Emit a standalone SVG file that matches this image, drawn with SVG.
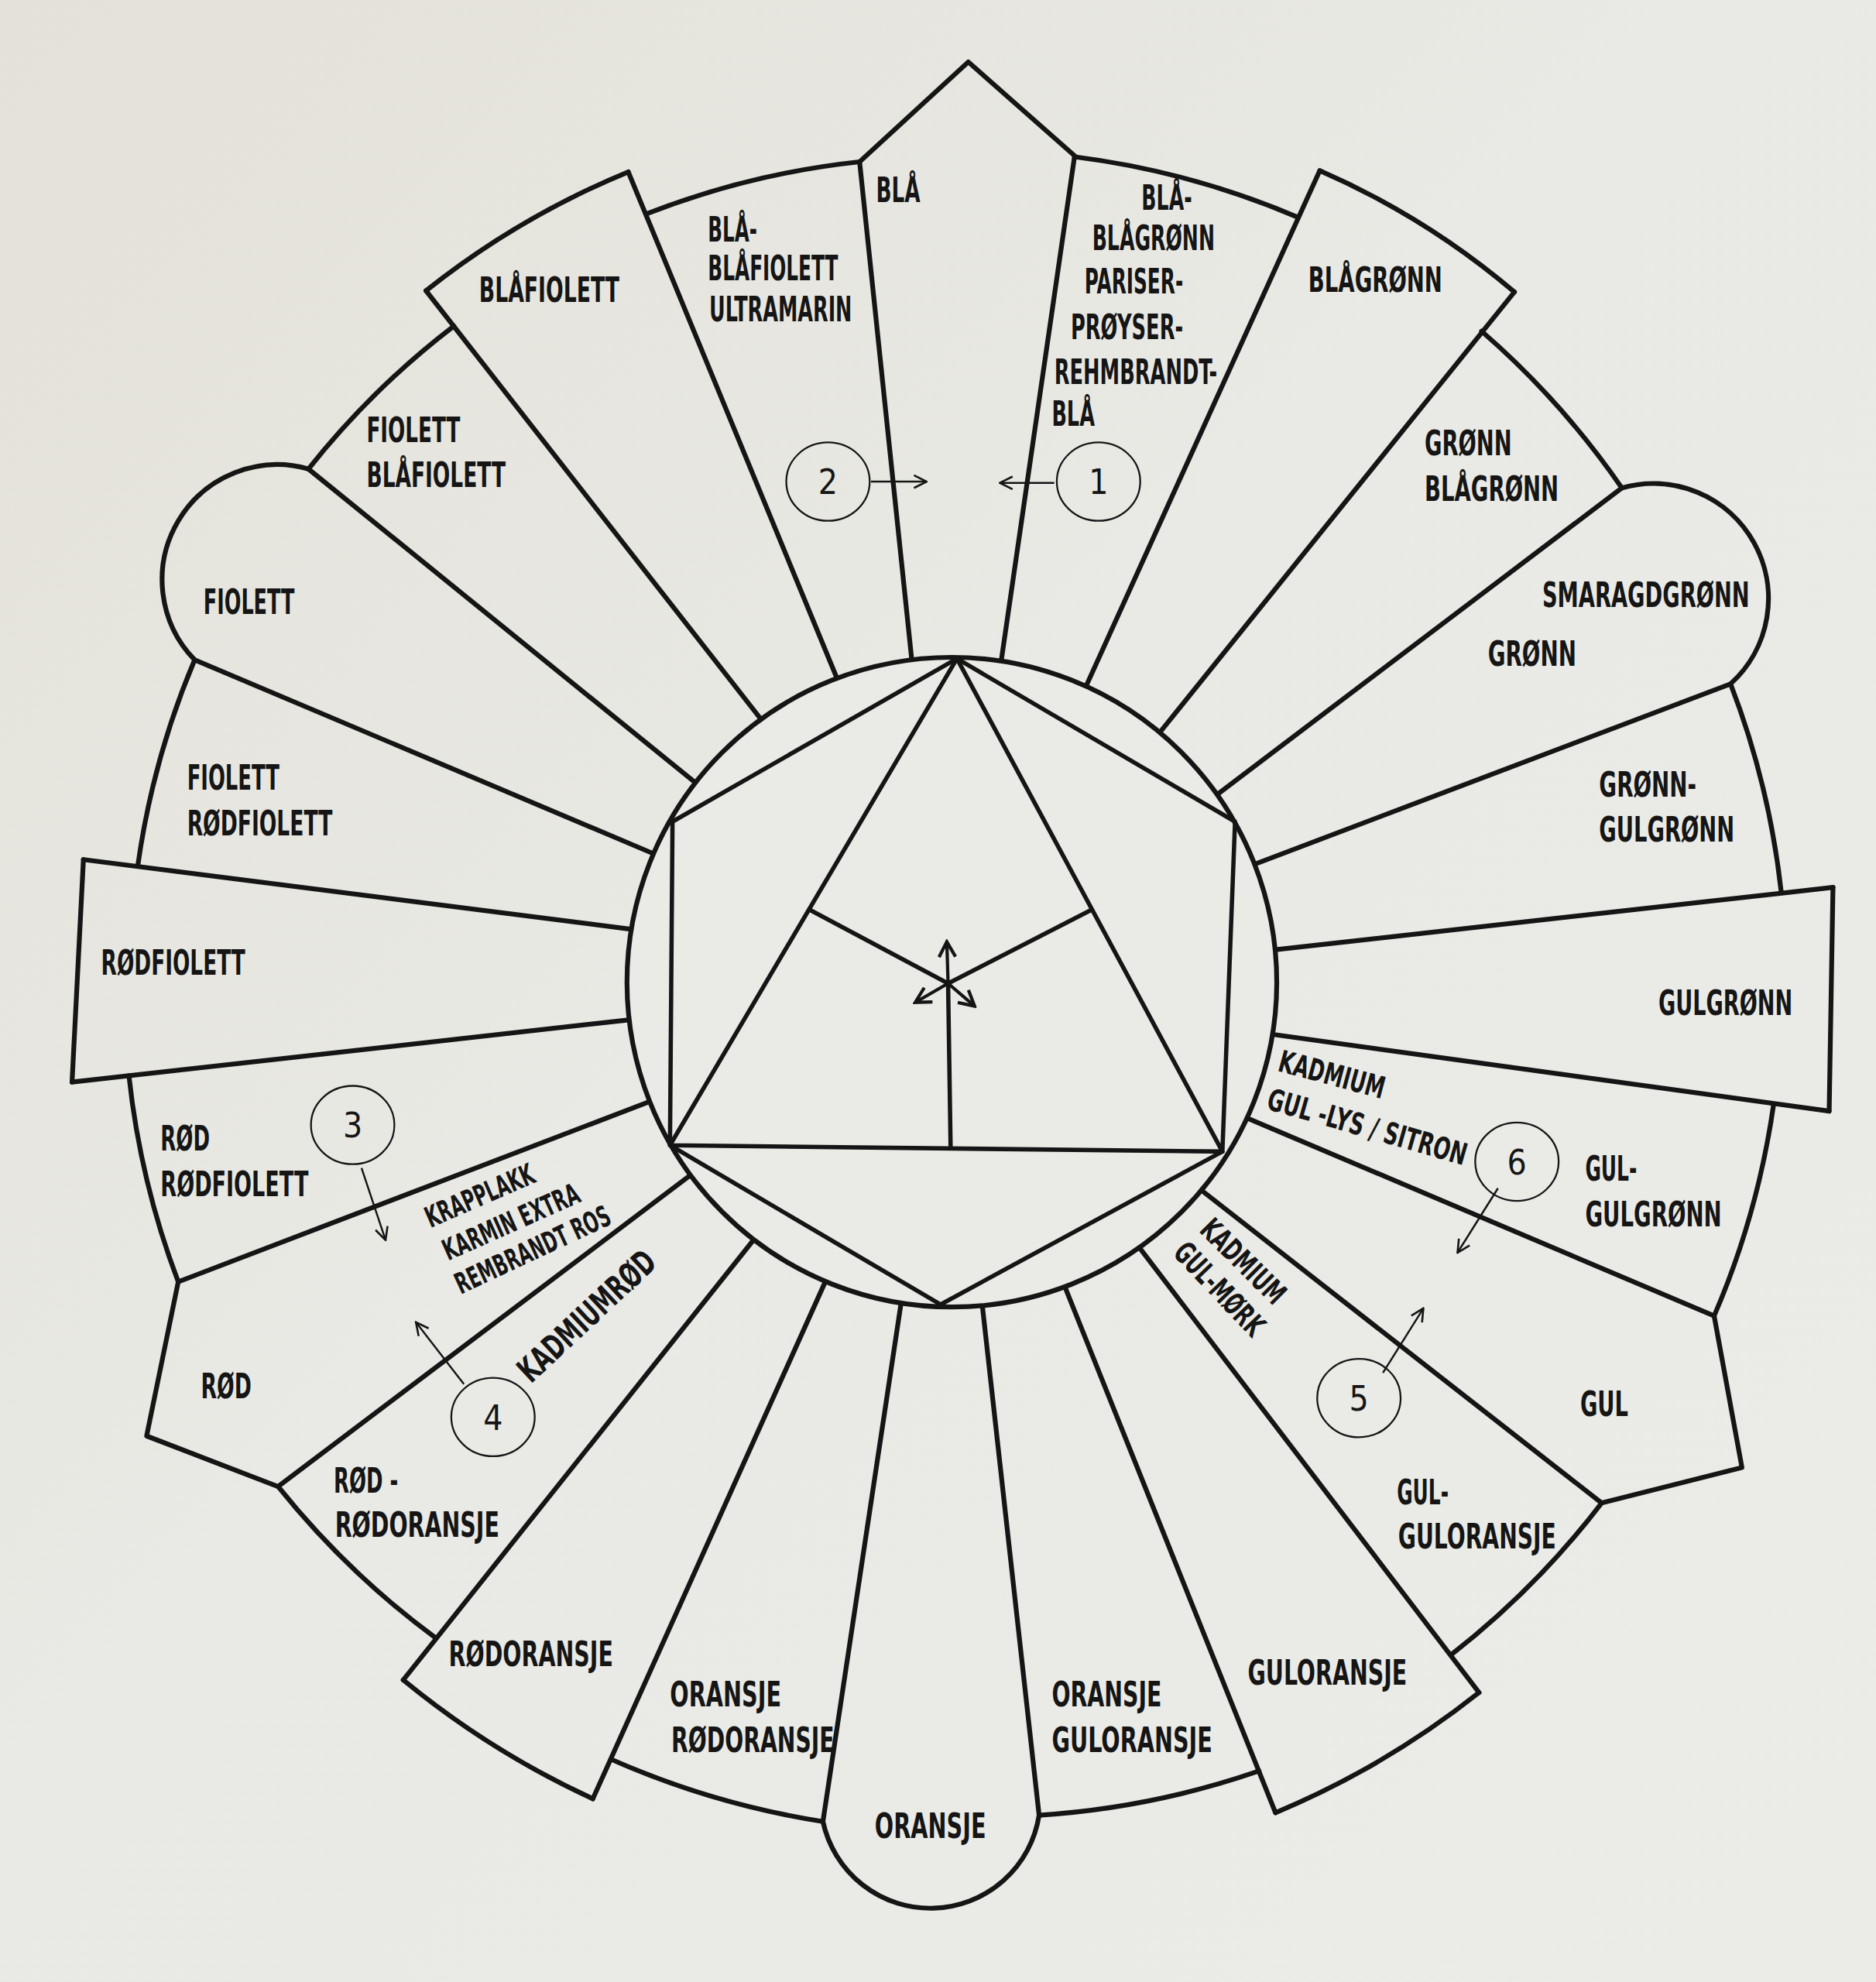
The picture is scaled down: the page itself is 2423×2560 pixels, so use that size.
<svg xmlns="http://www.w3.org/2000/svg" width="2423" height="2560" viewBox="0 0 2423 2560">
<defs>
<linearGradient id="bg" x1="0" y1="0" x2="1" y2="1">
<stop offset="0" stop-color="#e3e1d8"/>
<stop offset="0.45" stop-color="#e9e9e5"/>
<stop offset="1" stop-color="#ebebe7"/>
</linearGradient>
<marker id="ah" viewBox="0 0 12 12" refX="11" refY="6" markerWidth="12" markerHeight="12" markerUnits="userSpaceOnUse" orient="auto">
<path d="M1,1 L11,6 L1,11" fill="none" stroke="#151515" stroke-width="1.6"/>
</marker>
<marker id="ahc" viewBox="0 0 16 16" refX="14" refY="8" markerWidth="16" markerHeight="16" markerUnits="userSpaceOnUse" orient="auto">
<path d="M2,1.5 L14,8 L2,14.5" fill="none" stroke="#151515" stroke-width="2.6"/>
</marker>
<style>
.ln{fill:none;stroke:#151515;stroke-width:3.8;stroke-linejoin:round;stroke-linecap:round}
.in{fill:none;stroke:#151515;stroke-width:3.4;stroke-linejoin:round;stroke-linecap:round}
.t{font-family:"DejaVu Sans Condensed","DejaVu Sans",sans-serif;font-weight:bold;font-size:27px;fill:#151515}
.s{font-size:24px}
.k{font-size:23px}
.num{font-family:"DejaVu Sans Condensed","DejaVu Sans",sans-serif;font-size:27px;fill:#151515;text-anchor:middle}
.ell{fill:none;stroke:#151515;stroke-width:1.4}
.ar{fill:none;stroke:#151515;stroke-width:1.5;marker-end:url(#ah)}
.arc{fill:none;stroke:#151515;stroke-width:2.6;marker-end:url(#ahc)}
</style>
</defs>
<rect x="0" y="0" width="2423" height="2560" fill="url(#bg)"/>
<g transform="scale(1.6327)">
<g id="boundaries" class="ln">
<line x1="850" y1="124" x2="791" y2="530"/>
<line x1="1044" y1="135" x2="855" y2="552"/>
<line x1="1198" y1="231" x2="913" y2="585"/>
<line x1="1283" y1="386" x2="957" y2="633"/>
<line x1="1369" y1="541" x2="981" y2="688"/>
<line x1="1450" y1="702" x2="994" y2="753"/>
<line x1="1447" y1="879" x2="990" y2="816"/>
<line x1="1356" y1="1041" x2="976" y2="880"/>
<line x1="1267" y1="1189" x2="942" y2="935"/>
<line x1="1170" y1="1339" x2="893" y2="976"/>
<line x1="1009" y1="1434" x2="838" y2="1007"/>
<line x1="822" y1="1436" x2="776" y2="1023"/>
<line x1="651" y1="1441" x2="714" y2="1023"/>
<line x1="469" y1="1423" x2="656" y2="1007"/>
<line x1="319" y1="1329" x2="600" y2="976"/>
<line x1="220" y1="1176" x2="551" y2="926"/>
<line x1="141" y1="1014" x2="523" y2="868"/>
<line x1="57" y1="856" x2="514" y2="805"/>
<line x1="66" y1="680" x2="514" y2="737"/>
<line x1="154" y1="522" x2="528" y2="680"/>
<line x1="244" y1="371" x2="561" y2="628"/>
<line x1="337" y1="230" x2="609" y2="578"/>
<line x1="497" y1="136" x2="666" y2="546"/>
<line x1="680" y1="128" x2="722" y2="529"/>
</g>
<g id="center">
<circle cx="753" cy="777" r="257" fill="#eaeae6" stroke="#151515" stroke-width="3.8"/>
<polygon class="in" points="757,521 977,650 967,911 744,1032 530,906 532,650"/>
<polygon class="in" points="757,521 967,911 530,906"/>
<polyline class="in" points="641,720 750,778 863,720"/>
<line class="in" x1="750" y1="778" x2="752" y2="908"/>
<line class="arc" x1="750" y1="778" x2="749" y2="745"/>
<line class="arc" x1="750" y1="778" x2="724" y2="793"/>
<line class="arc" x1="750" y1="778" x2="771" y2="796"/>
</g>
<g id="p-bla"><path class="ln" d="M680,128 L766,49 L851,124"/><text class="t" x="693" y="160" textLength="35" lengthAdjust="spacingAndGlyphs">BLÅ</text></g>
<g id="p-bla-blagronn"><path class="ln" d="M850,124 A662,662 0 0 1 1027,172"/>
<text class="t" x="903" y="166" textLength="40" lengthAdjust="spacingAndGlyphs">BLÅ-</text>
<text class="t" x="864" y="198" textLength="97" lengthAdjust="spacingAndGlyphs">BLÅGRØNN</text>
<text class="t" x="858" y="232" textLength="78" lengthAdjust="spacingAndGlyphs">PARISER-</text>
<text class="t" x="847" y="268" textLength="89" lengthAdjust="spacingAndGlyphs">PRØYSER-</text>
<text class="t" x="834" y="304" textLength="129" lengthAdjust="spacingAndGlyphs">REHMBRANDT-</text>
<text class="t" x="832" y="337" textLength="34" lengthAdjust="spacingAndGlyphs">BLÅ</text></g>
<g id="p-blagronn"><path class="ln" d="M1044,135 A620,620 0 0 1 1198,231"/><text class="t" x="1035" y="231" textLength="106" lengthAdjust="spacingAndGlyphs">BLÅGRØNN</text></g>
<g id="p-gronn-blagronn"><path class="ln" d="M1172,262 A662,662 0 0 1 1283,386"/>
<text class="t" x="1127" y="360" textLength="69" lengthAdjust="spacingAndGlyphs">GRØNN</text>
<text class="t" x="1127" y="396" textLength="106" lengthAdjust="spacingAndGlyphs">BLÅGRØNN</text></g>
<g id="p-smaragdgronn"><path class="ln" d="M1283,386 A91,91 0 0 1 1369,541"/>
<text class="t" x="1220" y="480" textLength="164" lengthAdjust="spacingAndGlyphs">SMARAGDGRØNN</text>
<text class="t" x="1177" y="527" textLength="70" lengthAdjust="spacingAndGlyphs">GRØNN</text></g>
<g id="p-gronn-gulgronn"><path class="ln" d="M1369,541 A660,660 0 0 1 1409,705"/>
<text class="t" x="1265" y="630" textLength="77" lengthAdjust="spacingAndGlyphs">GRØNN-</text>
<text class="t" x="1265" y="666" textLength="107" lengthAdjust="spacingAndGlyphs">GULGRØNN</text></g>
<g id="p-gulgronn"><path class="ln" d="M1450,702 L1447,879"/><text class="t" x="1312" y="803" textLength="106" lengthAdjust="spacingAndGlyphs">GULGRØNN</text></g>
<g id="p-gul-gulgronn"><path class="ln" d="M1403,874 A658,658 0 0 1 1356,1041"/>
<text class="t s" transform="translate(1010,847) rotate(15)" textLength="86" lengthAdjust="spacingAndGlyphs">KADMIUM</text>
<text class="t s" transform="translate(1001,877) rotate(16)" textLength="163" lengthAdjust="spacingAndGlyphs">GUL -LYS / SITRON</text>
<text class="t" x="1254" y="934" textLength="41" lengthAdjust="spacingAndGlyphs">GUL-</text>
<text class="t" x="1254" y="970" textLength="108" lengthAdjust="spacingAndGlyphs">GULGRØNN</text></g>
<g id="p-gul"><path class="ln" d="M1356,1041 L1378,1161 L1267,1189"/><text class="t" x="1250" y="1120" textLength="38" lengthAdjust="spacingAndGlyphs">GUL</text></g>
<g id="p-gul-guloransje"><path class="ln" d="M1267,1189 A660,660 0 0 1 1148,1309"/>
<text class="t s" transform="translate(948,974) rotate(45)" textLength="84" lengthAdjust="spacingAndGlyphs">KADMIUM</text>
<text class="t s" transform="translate(927,992) rotate(46.5)" textLength="92" lengthAdjust="spacingAndGlyphs">GUL-MØRK</text>
<text class="t" x="1105" y="1190" textLength="41" lengthAdjust="spacingAndGlyphs">GUL-</text>
<text class="t" x="1106" y="1225" textLength="125" lengthAdjust="spacingAndGlyphs">GULORANSJE</text></g>
<g id="p-guloransje"><path class="ln" d="M1170,1339 A680,680 0 0 1 1009,1434"/><text class="t" x="987" y="1333" textLength="126" lengthAdjust="spacingAndGlyphs">GULORANSJE</text></g>
<g id="p-oransje-guloransje"><path class="ln" d="M996,1401 A665,665 0 0 1 822,1436"/>
<text class="t" x="832" y="1350" textLength="87" lengthAdjust="spacingAndGlyphs">ORANSJE</text>
<text class="t" x="832" y="1386" textLength="127" lengthAdjust="spacingAndGlyphs">GULORANSJE</text></g>
<g id="p-oransje"><path class="ln" d="M822,1436 A87,87 0 0 1 651,1441"/><text class="t" x="692" y="1454" textLength="88" lengthAdjust="spacingAndGlyphs">ORANSJE</text></g>
<g id="p-oransje-rodoransje"><path class="ln" d="M651,1441 A670,670 0 0 1 484,1392"/>
<text class="t" x="530" y="1350" textLength="88" lengthAdjust="spacingAndGlyphs">ORANSJE</text>
<text class="t" x="531" y="1386" textLength="129" lengthAdjust="spacingAndGlyphs">RØDORANSJE</text></g>
<g id="p-rodoransje"><path class="ln" d="M469,1423 A690,690 0 0 1 319,1329"/><text class="t" x="355" y="1318" textLength="130" lengthAdjust="spacingAndGlyphs">RØDORANSJE</text></g>
<g id="p-rod-rodoransje"><path class="ln" d="M345,1296 A665,665 0 0 1 220,1176"/>
<text class="t" transform="translate(420,1095) rotate(-43)" textLength="138" lengthAdjust="spacingAndGlyphs">KADMIUMRØD</text>
<text class="t" x="264" y="1181" textLength="51" lengthAdjust="spacingAndGlyphs">RØD -</text>
<text class="t" x="265" y="1216" textLength="130" lengthAdjust="spacingAndGlyphs">RØDORANSJE</text></g>
<g id="p-rod"><path class="ln" d="M220,1176 L116,1136 L141,1014"/>
<text class="t k" transform="translate(340.5,971.5) rotate(-23.5)" textLength="92" lengthAdjust="spacingAndGlyphs">KRAPPLAKK</text>
<text class="t k" transform="translate(354.5,997.5) rotate(-24)" textLength="116" lengthAdjust="spacingAndGlyphs">KARMIN EXTRA</text>
<text class="t k" transform="translate(364.5,1024) rotate(-25)" textLength="133" lengthAdjust="spacingAndGlyphs">REMBRANDT ROS</text>
<text class="t" x="159" y="1106" textLength="40" lengthAdjust="spacingAndGlyphs">RØD</text></g>
<g id="p-rod-rodfiolett"><path class="ln" d="M141,1014 A656,656 0 0 1 102,851"/>
<text class="t" x="127" y="910" textLength="39" lengthAdjust="spacingAndGlyphs">RØD</text>
<text class="t" x="127" y="946" textLength="117" lengthAdjust="spacingAndGlyphs">RØDFIOLETT</text></g>
<g id="p-rodfiolett"><path class="ln" d="M57,856 L66,680"/><text class="t" x="80" y="771" textLength="114" lengthAdjust="spacingAndGlyphs">RØDFIOLETT</text></g>
<g id="p-fiolett-rodfiolett"><path class="ln" d="M109,685 A651,651 0 0 1 154,522"/>
<text class="t" x="148" y="625" textLength="73" lengthAdjust="spacingAndGlyphs">FIOLETT</text>
<text class="t" x="148" y="661" textLength="115" lengthAdjust="spacingAndGlyphs">RØDFIOLETT</text></g>
<g id="p-fiolett"><path class="ln" d="M154,522 A91,91 0 0 1 244,371"/><text class="t" x="161" y="486" textLength="72" lengthAdjust="spacingAndGlyphs">FIOLETT</text></g>
<g id="p-fiolett-blafiolett"><path class="ln" d="M244,371 A652,652 0 0 1 359,258"/>
<text class="t" x="290" y="350" textLength="74" lengthAdjust="spacingAndGlyphs">FIOLETT</text>
<text class="t" x="290" y="385" textLength="110" lengthAdjust="spacingAndGlyphs">BLÅFIOLETT</text></g>
<g id="p-blafiolett"><path class="ln" d="M337,230 A660,660 0 0 1 497,136"/><text class="t" x="379" y="239" textLength="111" lengthAdjust="spacingAndGlyphs">BLÅFIOLETT</text></g>
<g id="p-bla-blafiolett"><path class="ln" d="M512,169 A652,652 0 0 1 680,128"/>
<text class="t" x="560" y="191" textLength="39" lengthAdjust="spacingAndGlyphs">BLÅ-</text>
<text class="t" x="560" y="222" textLength="103" lengthAdjust="spacingAndGlyphs">BLÅFIOLETT</text>
<text class="t" x="561" y="254" textLength="113" lengthAdjust="spacingAndGlyphs">ULTRAMARIN</text></g>
<g id="n1"><ellipse class="ell" cx="869" cy="381" rx="33" ry="31"/><text class="num" x="869" y="391">1</text></g>
<g id="n2"><ellipse class="ell" cx="655" cy="381" rx="33" ry="31"/><text class="num" x="655" y="391">2</text></g>
<g id="n3"><ellipse class="ell" cx="279" cy="890" rx="33" ry="31"/><text class="num" x="279" y="900">3</text></g>
<g id="n4"><ellipse class="ell" cx="390" cy="1121" rx="33" ry="31"/><text class="num" x="390" y="1131">4</text></g>
<g id="n5"><ellipse class="ell" cx="1075" cy="1106" rx="33" ry="31"/><text class="num" x="1075" y="1116">5</text></g>
<g id="n6"><ellipse class="ell" cx="1200" cy="919" rx="33" ry="31"/><text class="num" x="1200" y="929">6</text></g>
<g id="connectors">
<line class="ar" x1="834" y1="382" x2="791" y2="382"/>
<line class="ar" x1="689" y1="381" x2="733" y2="381"/>
<line class="ar" x1="286" y1="924" x2="305" y2="981"/>
<line class="ar" x1="367" y1="1095" x2="329" y2="1046"/>
<line class="ar" x1="1094" y1="1086" x2="1126" y2="1035"/>
<line class="ar" x1="1185" y1="940" x2="1153" y2="991"/>
</g>
</g>
</svg>
